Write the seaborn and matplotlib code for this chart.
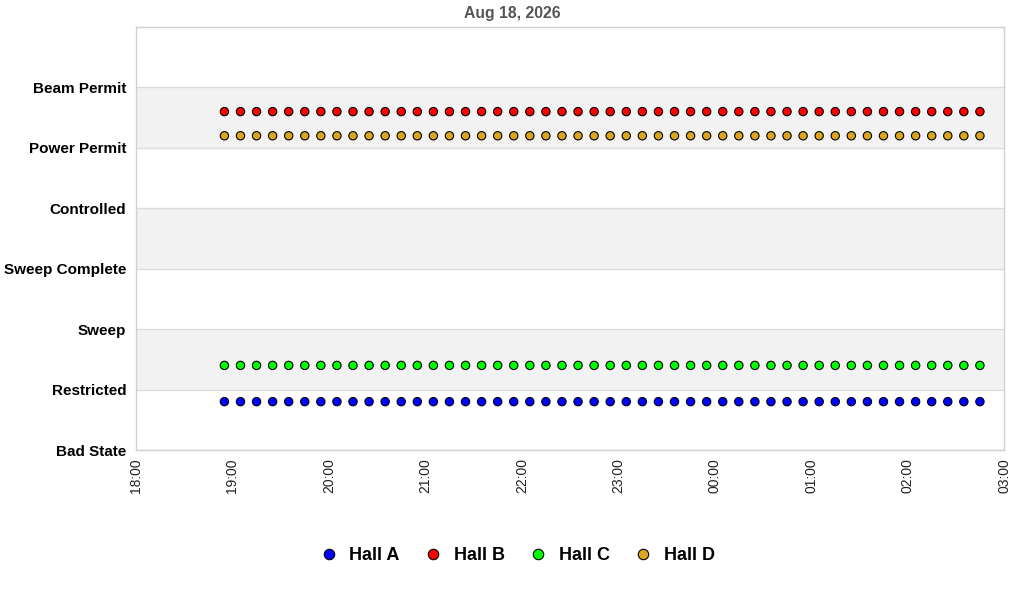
import pandas as pd
import seaborn as sns
import matplotlib.pyplot as plt
import matplotlib.dates as mdates

# ------------------------------
# Data
# ------------------------------
states = ["Bad State", "Restricted", "Sweep", "Sweep Complete",
          "Controlled", "Power Permit", "Beam Permit"]
halls = ["Hall A", "Hall B", "Hall C", "Hall D"]
hall_levels = [0.8, 5.6, 1.4, 5.2]
hall_colors = ["#0000ff", "#ff0000", "#00ff00", "#daa520"]
sample_times = pd.date_range("2026-08-18 18:55", "2026-08-19 02:45", freq="10min")
title = "Aug 18, 2026"

rows = []
for hall, level in zip(halls, hall_levels):
    for t in sample_times:
        rows.append({"time": t, "level": level, "hall": hall})
df = pd.DataFrame(rows)

# ------------------------------
# Plot
# ------------------------------
sns.set_style("white")
plt.rcParams['font.family'] = ['Liberation Sans', 'DejaVu Sans']

fig = plt.figure(figsize=(10.24, 6), dpi=100)
ax = fig.add_axes([0.1328, 0.25, 0.8477, 0.705])

# alternating bands + grid lines
for lo in (1, 3, 5):
    ax.axhspan(lo, lo + 1, color="#f2f2f2", zorder=0, lw=0)
for i in range(len(states) + 1):
    ax.axhline(i, color="#dcdcdc", lw=1, zorder=0.5)

sns.scatterplot(data=df, x="time", y="level", hue="hall", hue_order=halls,
                palette=hall_colors, s=36, edgecolor="black", linewidth=0.8,
                zorder=3, ax=ax, legend=False)

ax.set_ylim(0, len(states))
ax.set_yticks(range(len(states)))
ax.set_yticklabels(states, fontsize=11, fontweight="bold", color="black")
ax.set_xlim(pd.Timestamp("2026-08-18 18:00"), pd.Timestamp("2026-08-19 03:00"))
ax.xaxis.set_major_locator(mdates.HourLocator())
ax.xaxis.set_major_formatter(mdates.DateFormatter("%H:%M"))
ax.tick_params(axis="x", labelrotation=90, labelsize=10, length=0, pad=6,
               labelcolor="#222222")
ax.tick_params(axis="y", length=0, pad=7)
ax.set_xlabel("")
ax.set_ylabel("")
for sp in ax.spines.values():
    sp.set_color("#d0d0d0")
    sp.set_linewidth(1)

fig.text(0.5, 0.978, title, ha="center", va="center", fontsize=11.3,
         fontweight="bold", color="#555555")

handles = [plt.Line2D([], [], marker="o", ls="", markersize=7.5,
                      markerfacecolor=c, markeredgecolor="black",
                      markeredgewidth=0.8) for c in hall_colors]
leg = fig.legend(handles, halls, loc="center", bbox_to_anchor=(0.503, 0.074),
                 ncol=4, frameon=False, prop={"size": 13, "weight": "bold"},
                 handletextpad=0.4, columnspacing=1.1, handlelength=1.5)
for txt in leg.get_texts():
    txt.set_color("black")

fig.savefig("out.png", dpi=100)
